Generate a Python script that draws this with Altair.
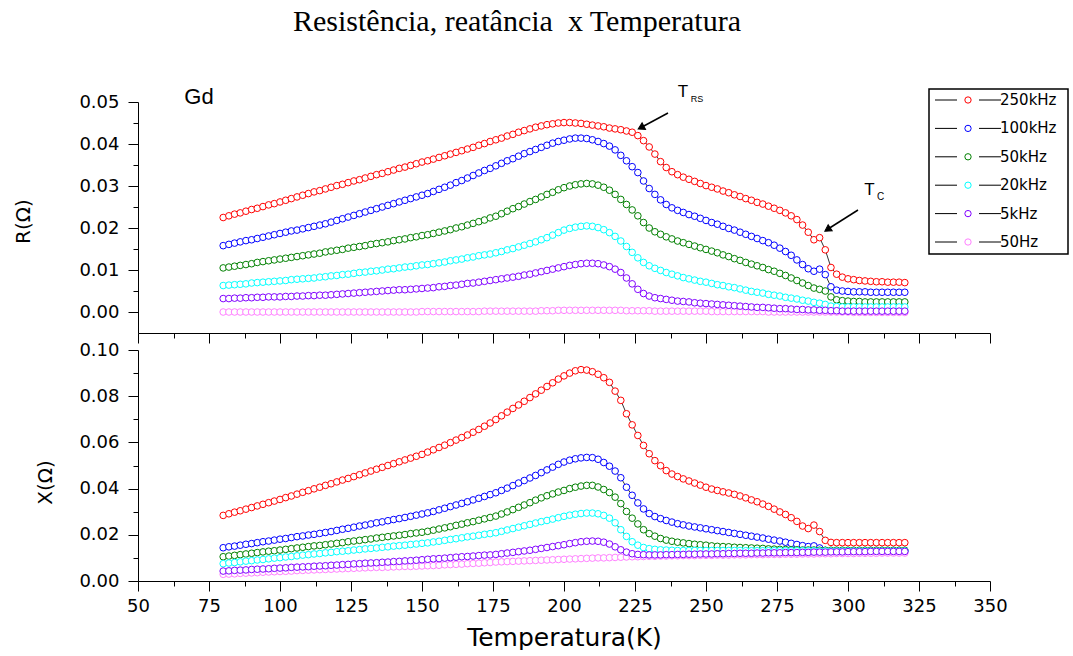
import altair as alt
import pandas as pd

SERIES = ["250kHz", "100kHz", "50kHz", "20kHz", "5kHz", "50Hz"]
COLORS = ["#FF0000", "#0000FF", "#008000", "#00FFFF", "#8000FF", "#FF80FF"]
DRAW_ORDER = ["250kHz", "100kHz", "50kHz", "20kHz", "50Hz", "5kHz"]

TEMPS = list(range(80, 321, 2))  # measurement temperatures (K)

# ---------------- Resistance R (ohm) ----------------
R_250k = [0.0225, 0.0229, 0.0233, 0.0236, 0.0240, 0.0244, 0.0247, 0.0251, 0.0255, 0.0258,
          0.0262, 0.0266, 0.0270, 0.0274, 0.0278, 0.0282, 0.0286, 0.0289, 0.0293, 0.0297,
          0.0301, 0.0304, 0.0308, 0.0312, 0.0315, 0.0319, 0.0323, 0.0327, 0.0330, 0.0334,
          0.0338, 0.0342, 0.0345, 0.0349, 0.0353, 0.0357, 0.0360, 0.0364, 0.0368, 0.0372,
          0.0376, 0.0380, 0.0384, 0.0388, 0.0392, 0.0397, 0.0401, 0.0406, 0.0410, 0.0414,
          0.0419, 0.0423, 0.0428, 0.0432, 0.0436, 0.0440, 0.0443, 0.0446, 0.0448, 0.0450,
          0.0451, 0.0451, 0.0450, 0.0449, 0.0447, 0.0445, 0.0443, 0.0441, 0.0438, 0.0436,
          0.0434, 0.0431, 0.0428, 0.0420, 0.0408, 0.0393, 0.0376, 0.0358, 0.0344, 0.0334,
          0.0327, 0.0321, 0.0316, 0.0311, 0.0306, 0.0301, 0.0297, 0.0293, 0.0288, 0.0284,
          0.0279, 0.0275, 0.0270, 0.0266, 0.0261, 0.0257, 0.0252, 0.0247, 0.0242, 0.0236,
          0.0229, 0.0220, 0.0207, 0.0190, 0.0172, 0.0177, 0.0148, 0.0106, 0.0090, 0.0083,
          0.0079, 0.0077, 0.0075, 0.0074, 0.0073, 0.0072, 0.0072, 0.0071, 0.0071, 0.0071,
          0.0070]
R_100k = [0.0158, 0.0161, 0.0164, 0.0167, 0.0170, 0.0172, 0.0175, 0.0178, 0.0181, 0.0184,
          0.0187, 0.0190, 0.0193, 0.0195, 0.0198, 0.0201, 0.0204, 0.0207, 0.0210, 0.0214,
          0.0218, 0.0222, 0.0226, 0.0230, 0.0234, 0.0238, 0.0242, 0.0246, 0.0250, 0.0254,
          0.0258, 0.0262, 0.0266, 0.0270, 0.0274, 0.0278, 0.0282, 0.0287, 0.0292, 0.0297,
          0.0302, 0.0308, 0.0313, 0.0319, 0.0325, 0.0331, 0.0337, 0.0342, 0.0348, 0.0354,
          0.0360, 0.0365, 0.0371, 0.0377, 0.0382, 0.0387, 0.0392, 0.0397, 0.0402, 0.0406,
          0.0409, 0.0412, 0.0414, 0.0414, 0.0413, 0.0410, 0.0406, 0.0401, 0.0395, 0.0386,
          0.0373, 0.0360, 0.0346, 0.0332, 0.0312, 0.0294, 0.0280, 0.0267, 0.0256, 0.0248,
          0.0242, 0.0237, 0.0232, 0.0228, 0.0223, 0.0218, 0.0213, 0.0209, 0.0204, 0.0199,
          0.0195, 0.0190, 0.0185, 0.0180, 0.0175, 0.0170, 0.0165, 0.0159, 0.0152, 0.0144,
          0.0135, 0.0124, 0.0113, 0.0103, 0.0097, 0.0102, 0.0089, 0.0060, 0.0052, 0.0050,
          0.0049, 0.0048, 0.0048, 0.0048, 0.0047, 0.0047, 0.0047, 0.0047, 0.0047, 0.0047,
          0.0047]
R_50k = [0.0105, 0.0107, 0.0109, 0.0111, 0.0113, 0.0115, 0.0118, 0.0120, 0.0122, 0.0124,
         0.0126, 0.0128, 0.0130, 0.0132, 0.0134, 0.0136, 0.0138, 0.0140, 0.0143, 0.0145,
         0.0147, 0.0149, 0.0152, 0.0154, 0.0156, 0.0158, 0.0161, 0.0163, 0.0165, 0.0167,
         0.0170, 0.0172, 0.0174, 0.0177, 0.0179, 0.0182, 0.0184, 0.0187, 0.0190, 0.0193,
         0.0196, 0.0200, 0.0203, 0.0207, 0.0211, 0.0215, 0.0219, 0.0224, 0.0228, 0.0234,
         0.0240, 0.0246, 0.0251, 0.0257, 0.0263, 0.0268, 0.0274, 0.0280, 0.0285, 0.0291,
         0.0296, 0.0300, 0.0303, 0.0305, 0.0306, 0.0305, 0.0302, 0.0297, 0.0290, 0.0280,
         0.0268, 0.0256, 0.0243, 0.0229, 0.0213, 0.0200, 0.0191, 0.0185, 0.0179, 0.0174,
         0.0169, 0.0165, 0.0161, 0.0157, 0.0153, 0.0149, 0.0145, 0.0141, 0.0136, 0.0132,
         0.0127, 0.0123, 0.0118, 0.0114, 0.0110, 0.0106, 0.0101, 0.0097, 0.0092, 0.0087,
         0.0081, 0.0075, 0.0069, 0.0063, 0.0057, 0.0054, 0.0050, 0.0036, 0.0029, 0.0027,
         0.0026, 0.0025, 0.0025, 0.0024, 0.0024, 0.0024, 0.0024, 0.0024, 0.0024, 0.0024,
         0.0024]
R_20k = [0.0063, 0.0064, 0.0065, 0.0066, 0.0067, 0.0069, 0.0070, 0.0071, 0.0072, 0.0073,
         0.0074, 0.0075, 0.0077, 0.0078, 0.0079, 0.0080, 0.0081, 0.0083, 0.0084, 0.0086,
         0.0087, 0.0089, 0.0090, 0.0092, 0.0094, 0.0095, 0.0097, 0.0098, 0.0100, 0.0102,
         0.0103, 0.0105, 0.0107, 0.0108, 0.0110, 0.0112, 0.0113, 0.0115, 0.0117, 0.0119,
         0.0122, 0.0124, 0.0126, 0.0129, 0.0131, 0.0134, 0.0136, 0.0138, 0.0141, 0.0144,
         0.0148, 0.0151, 0.0155, 0.0159, 0.0163, 0.0167, 0.0172, 0.0177, 0.0183, 0.0189,
         0.0195, 0.0199, 0.0202, 0.0204, 0.0205, 0.0204, 0.0201, 0.0196, 0.0189, 0.0180,
         0.0169, 0.0156, 0.0142, 0.0129, 0.0118, 0.0110, 0.0104, 0.0099, 0.0094, 0.0090,
         0.0086, 0.0082, 0.0079, 0.0076, 0.0073, 0.0071, 0.0068, 0.0065, 0.0063, 0.0060,
         0.0058, 0.0055, 0.0052, 0.0049, 0.0047, 0.0045, 0.0042, 0.0040, 0.0038, 0.0035,
         0.0033, 0.0031, 0.0028, 0.0026, 0.0023, 0.0021, 0.0018, 0.0014, 0.0013, 0.0012,
         0.0012, 0.0012, 0.0012, 0.0012, 0.0012, 0.0012, 0.0012, 0.0012, 0.0012, 0.0012,
         0.0012]
R_5k = [0.0032, 0.0032, 0.0033, 0.0033, 0.0034, 0.0034, 0.0035, 0.0035, 0.0036, 0.0036,
        0.0036, 0.0037, 0.0037, 0.0038, 0.0038, 0.0039, 0.0039, 0.0040, 0.0040, 0.0041,
        0.0042, 0.0043, 0.0044, 0.0045, 0.0046, 0.0047, 0.0048, 0.0049, 0.0050, 0.0051,
        0.0052, 0.0053, 0.0053, 0.0054, 0.0055, 0.0056, 0.0057, 0.0058, 0.0060, 0.0061,
        0.0063, 0.0064, 0.0066, 0.0068, 0.0069, 0.0071, 0.0073, 0.0075, 0.0077, 0.0079,
        0.0081, 0.0083, 0.0085, 0.0088, 0.0090, 0.0093, 0.0096, 0.0099, 0.0102, 0.0105,
        0.0108, 0.0111, 0.0113, 0.0115, 0.0116, 0.0116, 0.0115, 0.0112, 0.0108, 0.0102,
        0.0094, 0.0081, 0.0067, 0.0054, 0.0044, 0.0038, 0.0034, 0.0032, 0.0030, 0.0028,
        0.0026, 0.0025, 0.0024, 0.0022, 0.0021, 0.0020, 0.0019, 0.0018, 0.0017, 0.0016,
        0.0015, 0.0014, 0.0013, 0.0012, 0.0011, 0.0011, 0.0010, 0.0009, 0.0008, 0.0008,
        0.0007, 0.0006, 0.0006, 0.0005, 0.0005, 0.0004, 0.0004, 0.0003, 0.0003, 0.0002,
        0.0002, 0.0002, 0.0002, 0.0002, 0.0002, 0.0002, 0.0002, 0.0002, 0.0002, 0.0002,
        0.0002]
R_50 = [0.0000, 0.0000, 0.0000, 0.0000, 0.0000, 0.0000, 0.0000, 0.0000, 0.0000, 0.0000,
        0.0000, 0.0000, 0.0000, 0.0000, 0.0000, 0.0000, 0.0000, 0.0000, 0.0000, 0.0000,
        0.0000, 0.0000, 0.0000, 0.0000, 0.0000, 0.0000, 0.0000, 0.0000, 0.0000, 0.0000,
        0.0000, 0.0000, 0.0000, 0.0000, 0.0000, 0.0001, 0.0001, 0.0001, 0.0001, 0.0001,
        0.0001, 0.0001, 0.0001, 0.0001, 0.0001, 0.0001, 0.0002, 0.0002, 0.0002, 0.0002,
        0.0002, 0.0002, 0.0002, 0.0002, 0.0002, 0.0002, 0.0003, 0.0003, 0.0003, 0.0004,
        0.0004, 0.0004, 0.0004, 0.0004, 0.0004, 0.0004, 0.0004, 0.0004, 0.0004, 0.0004,
        0.0004, 0.0003, 0.0003, 0.0003, 0.0003, 0.0003, 0.0002, 0.0002, 0.0002, 0.0002,
        0.0002, 0.0002, 0.0002, 0.0002, 0.0002, 0.0002, 0.0001, 0.0001, 0.0001, 0.0001,
        0.0001, 0.0001, 0.0001, 0.0001, 0.0001, 0.0001, 0.0000, 0.0000, 0.0000, 0.0000,
        0.0000, 0.0000, 0.0000, 0.0000, 0.0000, 0.0000, 0.0000, 0.0000, 0.0000, 0.0000,
        0.0000, -0.0001, -0.0001, -0.0001, -0.0001, -0.0001, -0.0001, -0.0001, -0.0001, -0.0001,
        -0.0001]

# ---------------- Reactance X (ohm) ----------------
X_250k = [0.0284, 0.0291, 0.0298, 0.0304, 0.0311, 0.0318, 0.0325, 0.0332, 0.0339, 0.0346,
          0.0353, 0.0361, 0.0368, 0.0376, 0.0384, 0.0391, 0.0399, 0.0406, 0.0414, 0.0421,
          0.0429, 0.0437, 0.0444, 0.0452, 0.0460, 0.0468, 0.0476, 0.0484, 0.0492, 0.0500,
          0.0508, 0.0516, 0.0524, 0.0532, 0.0540, 0.0548, 0.0558, 0.0568, 0.0578, 0.0588,
          0.0599, 0.0610, 0.0621, 0.0632, 0.0644, 0.0656, 0.0670, 0.0684, 0.0699, 0.0715,
          0.0731, 0.0747, 0.0762, 0.0778, 0.0794, 0.0810, 0.0826, 0.0842, 0.0858, 0.0874,
          0.0888, 0.0900, 0.0910, 0.0915, 0.0913, 0.0906, 0.0895, 0.0880, 0.0860, 0.0822,
          0.0782, 0.0724, 0.0676, 0.0630, 0.0587, 0.0551, 0.0521, 0.0499, 0.0478, 0.0463,
          0.0452, 0.0442, 0.0433, 0.0424, 0.0415, 0.0406, 0.0398, 0.0392, 0.0386, 0.0381,
          0.0375, 0.0368, 0.0360, 0.0351, 0.0343, 0.0333, 0.0323, 0.0311, 0.0299, 0.0288,
          0.0274, 0.0258, 0.0238, 0.0227, 0.0242, 0.0214, 0.0176, 0.0167, 0.0166, 0.0166,
          0.0166, 0.0166, 0.0166, 0.0166, 0.0166, 0.0166, 0.0166, 0.0166, 0.0166, 0.0166,
          0.0166]
X_100k = [0.0144, 0.0148, 0.0151, 0.0155, 0.0159, 0.0162, 0.0166, 0.0170, 0.0173, 0.0177,
          0.0181, 0.0184, 0.0188, 0.0192, 0.0195, 0.0199, 0.0202, 0.0206, 0.0210, 0.0214,
          0.0219, 0.0224, 0.0228, 0.0233, 0.0238, 0.0242, 0.0247, 0.0252, 0.0256, 0.0261,
          0.0266, 0.0270, 0.0275, 0.0280, 0.0285, 0.0290, 0.0295, 0.0301, 0.0308, 0.0315,
          0.0322, 0.0329, 0.0336, 0.0343, 0.0351, 0.0358, 0.0366, 0.0374, 0.0382, 0.0392,
          0.0402, 0.0413, 0.0424, 0.0435, 0.0446, 0.0457, 0.0469, 0.0481, 0.0493, 0.0505,
          0.0515, 0.0523, 0.0529, 0.0533, 0.0535, 0.0534, 0.0527, 0.0513, 0.0497, 0.0476,
          0.0447, 0.0406, 0.0371, 0.0338, 0.0312, 0.0292, 0.0279, 0.0270, 0.0262, 0.0255,
          0.0248, 0.0243, 0.0238, 0.0234, 0.0230, 0.0226, 0.0222, 0.0218, 0.0214, 0.0210,
          0.0206, 0.0202, 0.0198, 0.0194, 0.0190, 0.0186, 0.0181, 0.0177, 0.0173, 0.0168,
          0.0163, 0.0158, 0.0153, 0.0149, 0.0152, 0.0143, 0.0132, 0.0130, 0.0129, 0.0129,
          0.0129, 0.0129, 0.0129, 0.0129, 0.0129, 0.0129, 0.0129, 0.0129, 0.0129, 0.0129,
          0.0129]
X_50k = [0.0105, 0.0108, 0.0111, 0.0114, 0.0117, 0.0120, 0.0123, 0.0126, 0.0129, 0.0131,
         0.0134, 0.0137, 0.0140, 0.0143, 0.0146, 0.0149, 0.0152, 0.0154, 0.0157, 0.0160,
         0.0163, 0.0166, 0.0170, 0.0173, 0.0176, 0.0179, 0.0182, 0.0186, 0.0189, 0.0192,
         0.0195, 0.0198, 0.0201, 0.0205, 0.0208, 0.0211, 0.0215, 0.0220, 0.0225, 0.0230,
         0.0235, 0.0241, 0.0246, 0.0252, 0.0257, 0.0263, 0.0269, 0.0275, 0.0281, 0.0290,
         0.0299, 0.0309, 0.0319, 0.0329, 0.0339, 0.0350, 0.0360, 0.0369, 0.0377, 0.0385,
         0.0392, 0.0400, 0.0406, 0.0411, 0.0414, 0.0414, 0.0407, 0.0396, 0.0383, 0.0363,
         0.0335, 0.0301, 0.0272, 0.0247, 0.0222, 0.0205, 0.0194, 0.0184, 0.0177, 0.0172,
         0.0168, 0.0165, 0.0162, 0.0159, 0.0157, 0.0155, 0.0152, 0.0150, 0.0149, 0.0148,
         0.0146, 0.0145, 0.0144, 0.0143, 0.0142, 0.0141, 0.0139, 0.0138, 0.0137, 0.0136,
         0.0135, 0.0135, 0.0134, 0.0134, 0.0134, 0.0133, 0.0133, 0.0133, 0.0133, 0.0133,
         0.0133, 0.0133, 0.0133, 0.0133, 0.0133, 0.0133, 0.0133, 0.0133, 0.0133, 0.0133,
         0.0133]
X_20k = [0.0075, 0.0078, 0.0080, 0.0083, 0.0086, 0.0088, 0.0091, 0.0093, 0.0096, 0.0099,
         0.0101, 0.0104, 0.0106, 0.0109, 0.0112, 0.0114, 0.0117, 0.0119, 0.0122, 0.0124,
         0.0127, 0.0129, 0.0131, 0.0134, 0.0136, 0.0139, 0.0141, 0.0143, 0.0146, 0.0148,
         0.0151, 0.0153, 0.0155, 0.0158, 0.0160, 0.0163, 0.0165, 0.0169, 0.0172, 0.0176,
         0.0180, 0.0183, 0.0187, 0.0191, 0.0194, 0.0198, 0.0202, 0.0205, 0.0209, 0.0215,
         0.0221, 0.0227, 0.0233, 0.0239, 0.0245, 0.0251, 0.0257, 0.0262, 0.0268, 0.0274,
         0.0280, 0.0285, 0.0289, 0.0292, 0.0294, 0.0294, 0.0291, 0.0284, 0.0272, 0.0252,
         0.0222, 0.0193, 0.0170, 0.0155, 0.0145, 0.0140, 0.0137, 0.0135, 0.0134, 0.0133,
         0.0132, 0.0132, 0.0132, 0.0132, 0.0132, 0.0132, 0.0132, 0.0132, 0.0132, 0.0132,
         0.0132, 0.0132, 0.0131, 0.0131, 0.0131, 0.0131, 0.0131, 0.0131, 0.0131, 0.0131,
         0.0131, 0.0131, 0.0131, 0.0131, 0.0131, 0.0130, 0.0130, 0.0130, 0.0130, 0.0130,
         0.0130, 0.0130, 0.0130, 0.0130, 0.0130, 0.0130, 0.0130, 0.0130, 0.0130, 0.0130,
         0.0130]
X_5k = [0.0043, 0.0044, 0.0046, 0.0047, 0.0048, 0.0050, 0.0051, 0.0052, 0.0053, 0.0055,
        0.0056, 0.0057, 0.0059, 0.0060, 0.0061, 0.0062, 0.0064, 0.0065, 0.0066, 0.0068,
        0.0069, 0.0071, 0.0072, 0.0074, 0.0075, 0.0077, 0.0078, 0.0079, 0.0081, 0.0082,
        0.0084, 0.0085, 0.0087, 0.0088, 0.0090, 0.0092, 0.0094, 0.0096, 0.0097, 0.0099,
        0.0101, 0.0103, 0.0105, 0.0106, 0.0108, 0.0110, 0.0112, 0.0113, 0.0115, 0.0118,
        0.0121, 0.0124, 0.0127, 0.0130, 0.0133, 0.0137, 0.0141, 0.0145, 0.0149, 0.0153,
        0.0157, 0.0162, 0.0166, 0.0170, 0.0172, 0.0173, 0.0172, 0.0168, 0.0160, 0.0148,
        0.0135, 0.0125, 0.0118, 0.0115, 0.0114, 0.0113, 0.0113, 0.0113, 0.0114, 0.0114,
        0.0115, 0.0115, 0.0116, 0.0116, 0.0117, 0.0117, 0.0117, 0.0118, 0.0118, 0.0119,
        0.0119, 0.0120, 0.0120, 0.0120, 0.0121, 0.0121, 0.0122, 0.0122, 0.0122, 0.0123,
        0.0123, 0.0123, 0.0124, 0.0124, 0.0125, 0.0125, 0.0125, 0.0126, 0.0126, 0.0126,
        0.0127, 0.0127, 0.0127, 0.0127, 0.0128, 0.0128, 0.0128, 0.0128, 0.0128, 0.0128,
        0.0128]
X_50 = [0.0029, 0.0030, 0.0031, 0.0033, 0.0034, 0.0035, 0.0036, 0.0038, 0.0039, 0.0040,
        0.0041, 0.0042, 0.0043, 0.0045, 0.0046, 0.0047, 0.0048, 0.0049, 0.0050, 0.0051,
        0.0052, 0.0053, 0.0054, 0.0055, 0.0056, 0.0057, 0.0058, 0.0059, 0.0059, 0.0060,
        0.0061, 0.0062, 0.0063, 0.0063, 0.0064, 0.0065, 0.0066, 0.0067, 0.0068, 0.0070,
        0.0071, 0.0072, 0.0073, 0.0075, 0.0076, 0.0077, 0.0079, 0.0080, 0.0082, 0.0083,
        0.0084, 0.0085, 0.0086, 0.0087, 0.0088, 0.0089, 0.0090, 0.0091, 0.0092, 0.0093,
        0.0094, 0.0095, 0.0096, 0.0097, 0.0098, 0.0099, 0.0100, 0.0100, 0.0101, 0.0102,
        0.0103, 0.0104, 0.0105, 0.0105, 0.0106, 0.0107, 0.0107, 0.0108, 0.0108, 0.0109,
        0.0109, 0.0110, 0.0110, 0.0110, 0.0111, 0.0111, 0.0111, 0.0112, 0.0112, 0.0112,
        0.0113, 0.0113, 0.0113, 0.0114, 0.0114, 0.0114, 0.0115, 0.0115, 0.0115, 0.0116,
        0.0116, 0.0116, 0.0117, 0.0117, 0.0117, 0.0118, 0.0118, 0.0118, 0.0119, 0.0119,
        0.0119, 0.0119, 0.0120, 0.0120, 0.0120, 0.0120, 0.0121, 0.0121, 0.0121, 0.0121,
        0.0121]

R_DATA = {"250kHz": R_250k, "100kHz": R_100k, "50kHz": R_50k,
          "20kHz": R_20k, "5kHz": R_5k, "50Hz": R_50}
X_DATA = {"250kHz": X_250k, "100kHz": X_100k, "50kHz": X_50k,
          "20kHz": X_20k, "5kHz": X_5k, "50Hz": X_50}


def long_table(data):
    rows = []
    for name in DRAW_ORDER:
        for t, v in zip(TEMPS, data[name]):
            rows.append({"T": t, "v": v, "series": name})
    return pd.DataFrame(rows)


df_R = long_table(R_DATA)
df_X = long_table(X_DATA)

W, H = 852, 231
FONT = "DejaVu Sans"

xscale = alt.Scale(domain=[50, 350], nice=False, zero=False)
cscale = alt.Scale(domain=SERIES, range=COLORS)
x_ticks = [50 + 12.5 * i for i in range(25)]
yR_ticks = [0.0, 0.005, 0.01, 0.015, 0.02, 0.025, 0.03, 0.035, 0.04, 0.045, 0.05]
yX_ticks = [0.0, 0.01, 0.02, 0.03, 0.04, 0.05, 0.06, 0.07, 0.08, 0.09, 0.10]

x_tick_size = {"condition": {"test": "datum.value % 25 != 0", "value": 5}, "value": 10}
yR_tick_size = {"condition": {"test": "round(datum.value * 1000) % 10 != 0", "value": 5}, "value": 10}
yX_tick_size = {"condition": {"test": "round(datum.value * 100) % 2 != 0", "value": 5}, "value": 10}

x_axis_top = alt.Axis(values=x_ticks, labels=False, title=None, tickSize=x_tick_size,
                      domainColor="black", tickColor="black", grid=False)
x_axis_bot = alt.Axis(values=x_ticks, title="Temperatura(K)", tickSize=x_tick_size,
                      labelExpr="datum.value % 25 == 0 ? datum.label : ''",
                      labelOverlap=False, labelFlush=False, labelPadding=6,
                      labelFont=FONT, labelFontSize=18,
                      titleFont=FONT, titleFontSize=25, titleFontWeight="normal",
                      titlePadding=10, domainColor="black", tickColor="black", grid=False)
y_axis_R = alt.Axis(values=yR_ticks, format=".2f", tickSize=yR_tick_size,
                    labelExpr="round(datum.value * 1000) % 10 == 0 ? datum.label : ''",
                    labelOverlap=False, labelFlush=False, labelPadding=9,
                    labelFont=FONT, labelFontSize=18,
                    title="R(Ω)", titleX=-115, titleY=119, titleAngle=270,
                    titleAlign="center", titleBaseline="middle",
                    titleFont=FONT, titleFontSize=20, titleFontWeight="normal",
                    domainColor="black", tickColor="black", grid=False)
y_axis_X = alt.Axis(values=yX_ticks, format=".2f", tickSize=yX_tick_size,
                    labelExpr="round(datum.value * 100) % 2 == 0 ? datum.label : ''",
                    labelOverlap=False, labelFlush=False, labelPadding=9,
                    labelFont=FONT, labelFontSize=18,
                    title="X(Ω)", titleX=-93, titleY=132, titleAngle=270,
                    titleAlign="center", titleBaseline="middle",
                    titleFont=FONT, titleFontSize=20, titleFontWeight="normal",
                    domainColor="black", tickColor="black", grid=False)


def series_layers(df, yscale, yaxis, xaxis):
    x = alt.X("T:Q", scale=xscale, axis=xaxis)
    y = alt.Y("v:Q", scale=yscale, axis=yaxis)
    lines = alt.Chart(df).mark_line(color="black", strokeWidth=0.8).encode(
        x=x, y=y, detail="series:N")
    pts = alt.Chart(df).mark_point(shape="circle", fill="white", fillOpacity=1,
                                   opacity=1, size=44, strokeWidth=1).encode(
        x=x, y=y, stroke=alt.Stroke("series:N", scale=cscale, legend=None))
    return [lines, pts]


one = pd.DataFrame({"a": [0]})

# manual legend (line - symbol - line  label)
leg_df = pd.DataFrame({"series": SERIES, "i": list(range(len(SERIES)))})
leg_base = alt.Chart(leg_df).transform_calculate(ly="-2 + datum.i * 28.4")
ly = alt.Y("ly:Q", scale=None, axis=None)
leg_box = alt.Chart(one).mark_rect(fill="white", stroke="black", strokeWidth=1.5).encode(
    x=alt.value(791), x2=alt.value(930), y=alt.value(-13), y2=alt.value(152))
leg_l1 = leg_base.mark_rule(color="black", strokeWidth=1).encode(
    x=alt.value(797), x2=alt.value(819), y=ly)
leg_l2 = leg_base.mark_rule(color="black", strokeWidth=1).encode(
    x=alt.value(841), x2=alt.value(863), y=ly)
leg_pt = leg_base.mark_point(shape="circle", fill="white", fillOpacity=1, opacity=1,
                             size=40, strokeWidth=1).encode(
    x=alt.value(830), y=ly, stroke=alt.Stroke("series:N", scale=cscale, legend=None))
leg_tx = leg_base.mark_text(align="left", baseline="middle", font=FONT, fontSize=15,
                            color="black").encode(x=alt.value(862), y=ly, text="series:N")


def label(text, x, y, size, font="Liberation Sans", align="center"):
    return alt.Chart(one).mark_text(text=text, font=font, fontSize=size, align=align,
                                    baseline="middle", color="black").encode(
        x=alt.value(x), y=alt.value(y))


def arrow(x1, y1, x2, y2, hx, hy, ang):
    shaft = alt.Chart(one).mark_rule(color="black", strokeWidth=1.5).encode(
        x=alt.value(x1), y=alt.value(y1), x2=alt.value(x2), y2=alt.value(y2))
    head = alt.Chart(one).mark_point(shape="triangle-up", filled=True, fill="black",
                                     stroke="black", strokeWidth=1, size=55,
                                     angle=ang, opacity=1).encode(
        x=alt.value(hx), y=alt.value(hy))
    return [shaft, head]


title = label("Resistência, reatância\u00a0 x Temperatura", 379, -80, 30,
              font="Liberation Serif")
gd = label("Gd", 61, -5, 22)
trs = [label("T", 545, -10, 17), label("RS", 559, -3, 9)]
tc = [label("T", 731.5, 88, 17), label("C", 742.5, 95, 10)]

top_layers = (series_layers(df_R, alt.Scale(domain=[-0.005, 0.05], nice=False, zero=False),
                            y_axis_R, x_axis_top)
              + [leg_box, leg_l1, leg_l2, leg_pt, leg_tx, title, gd]
              + trs + tc
              + arrow(530, 11, 504, 25, 503, 25.6, 242)
              + arrow(720, 108, 690, 127, 689.5, 127.5, 237))
top = alt.layer(*top_layers).properties(width=W, height=H)

bot_layers = series_layers(df_X, alt.Scale(domain=[0, 0.10], nice=False, zero=False),
                           y_axis_X, x_axis_bot)
bottom = alt.layer(*bot_layers).properties(width=W, height=H)

chart = (alt.vconcat(top, bottom, spacing=17, bounds="flush")
         .properties(padding={"left": 13, "top": 7, "right": 0, "bottom": 0},
                     background="white")
         .configure_view(stroke=None)
         .configure_axis(labelColor="black", titleColor="black"))

chart.save("out.html", embed_options={"renderer": "svg", "actions": False})
